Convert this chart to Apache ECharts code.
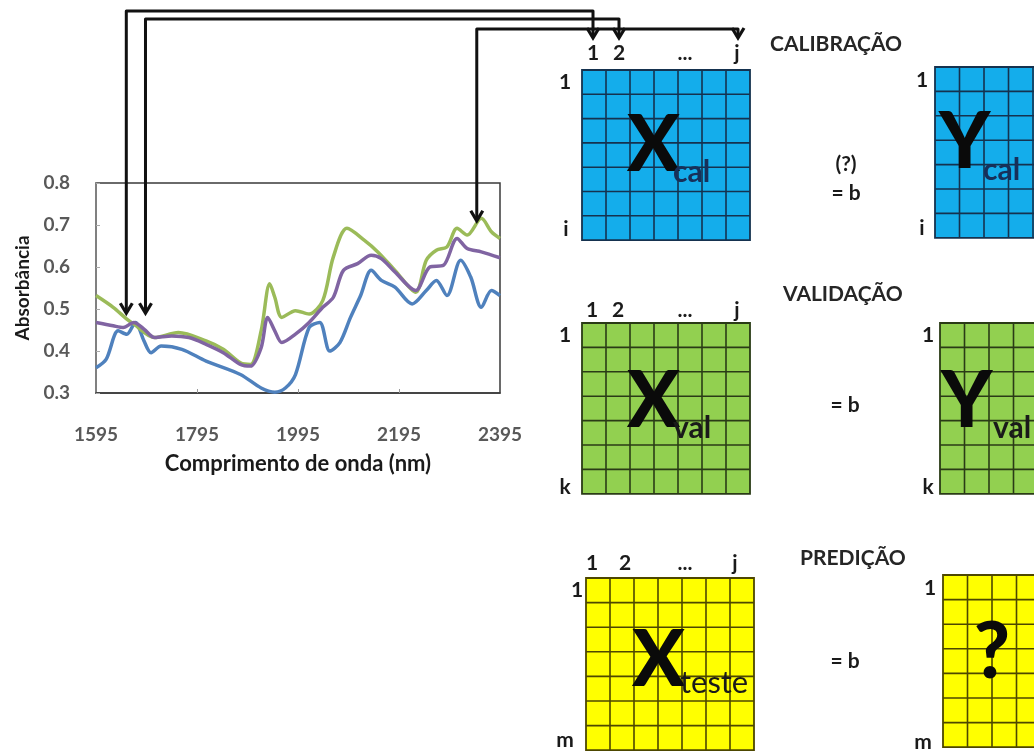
<!DOCTYPE html>
<html><head><meta charset="utf-8">
<script src="https://cdn.jsdelivr.net/npm/echarts@6/dist/echarts.min.js"></script>
<style>html,body{margin:0;padding:0;background:#fff}#c{width:1034px;height:752px}</style>
</head><body><div id="c"></div>
<script>
// ---- data ----
const xTicks = [1595, 1795, 1995, 2195, 2395];
const xInnerTicks = [1795, 1995, 2195];
const yTicks = [0.3, 0.4, 0.5, 0.6, 0.7, 0.8];

const greenWl  = [1595,1629,1656,1670,1711,1758,1813,1847,1881,1901,1922,1939,1949,1963,1990,2017,2044,2065,2092,2126,2153,2187,2228,2249,2269,2290,2310,2330,2358,2378,2395];
const greenAbs = [0.532,0.504,0.476,0.464,0.432,0.444,0.424,0.404,0.372,0.368,0.448,0.56,0.528,0.48,0.496,0.488,0.52,0.624,0.692,0.664,0.636,0.592,0.54,0.616,0.64,0.648,0.692,0.676,0.716,0.684,0.668];

const purpleWl  = [1595,1629,1649,1670,1690,1711,1745,1779,1813,1847,1881,1901,1922,1935,1949,1963,1990,2017,2044,2065,2085,2113,2140,2160,2187,2228,2256,2283,2310,2330,2358,2395];
const purpleAbs = [0.468,0.46,0.456,0.468,0.452,0.432,0.436,0.432,0.416,0.396,0.368,0.364,0.408,0.48,0.448,0.42,0.44,0.468,0.504,0.528,0.592,0.608,0.628,0.62,0.588,0.544,0.6,0.604,0.668,0.644,0.636,0.622];

const blueWl  = [1595,1615,1639,1656,1673,1690,1704,1724,1765,1813,1881,1922,1949,1970,1990,2017,2038,2058,2078,2099,2119,2140,2160,2187,2221,2249,2269,2290,2317,2337,2358,2378,2395];
const blueAbs = [0.36,0.38,0.448,0.44,0.468,0.424,0.396,0.412,0.404,0.376,0.344,0.312,0.302,0.312,0.344,0.456,0.468,0.40,0.42,0.48,0.532,0.592,0.568,0.552,0.512,0.544,0.568,0.532,0.616,0.576,0.504,0.544,0.532];

// arrows: wavelength picked and absorbance where each arrow tip sits
const arrowWl  = [1655, 1693, 2349];
const arrowAbs = [0.49, 0.49, 0.71];

const FONT = 'Lato, "Open Sans", sans-serif';
const zip = (a, b) => a.map((v, i) => [v, b[i]]);

const chart = echarts.init(document.getElementById('c'), null, {renderer: 'canvas'});

const option = {
  backgroundColor: '#fff',
  animation: false,
  grid: {left: 96, top: 183, width: 404, height: 210, show: true, borderColor: '#3a3a3a', borderWidth: 1.5},
  xAxis: {
    type: 'value', min: 1595, max: 2395,
    name: 'Comprimento de onda (nm)', nameLocation: 'middle', nameGap: 60,
    nameTextStyle: {fontFamily: FONT, fontWeight: 'bold', fontSize: 22, color: '#1a1a1a'},
    axisLine: {show: true, lineStyle: {color: '#3a3a3a', width: 1.5}},
    axisTick: {show: true, inside: true, length: 4, customValues: xInnerTicks, lineStyle: {color: '#999'}},
    axisLabel: {customValues: xTicks, margin: 32, fontFamily: FONT, fontWeight: 'bold', fontSize: 19, color: '#595959',
      formatter: v => String(v)},
    splitLine: {show: false}
  },
  yAxis: {
    type: 'value', min: 0.3, max: 0.8,
    name: 'Absorbância', nameLocation: 'middle', nameGap: 64, nameRotate: 90,
    nameTextStyle: {fontFamily: FONT, fontWeight: 'bold', fontSize: 19, color: '#1a1a1a'},
    axisLine: {show: true, lineStyle: {color: '#888', width: 1.5}},
    axisTick: {show: true, inside: true, length: 4, customValues: yTicks, lineStyle: {color: '#aaa'}},
    axisLabel: {customValues: yTicks, margin: 26, fontFamily: FONT, fontWeight: 'bold', fontSize: 19, color: '#595959',
      formatter: v => v.toFixed(1)},
    splitLine: {show: false}
  },
  series: [
    {type: 'line', data: zip(blueWl, blueAbs), smooth: 0.3, symbol: 'none', lineStyle: {color: '#4F81BD', width: 3.5}, itemStyle: {color: '#4F81BD'}},
    {type: 'line', data: zip(greenWl, greenAbs), smooth: 0.3, symbol: 'none', lineStyle: {color: '#9BBB59', width: 3.5}, itemStyle: {color: '#9BBB59'}},
    {type: 'line', data: zip(purpleWl, purpleAbs), smooth: 0.3, symbol: 'none', lineStyle: {color: '#8064A2', width: 3.5}, itemStyle: {color: '#8064A2'}}
  ]
};
chart.setOption(option);

// ---- diagram (graphic) ----
const g = [];
function txt(s, x, y, size, opts) {
  opts = opts || {};
  g.push({type: 'text', x: x, y: y, z: 10, style: {
    text: s, fill: opts.color || '#1a1a1a', font: (opts.weight || 'bold') + ' ' + size + 'px ' + FONT,
    textAlign: opts.align || 'center', textVerticalAlign: 'middle'}});
}
function matrix(x, y, cw, rh, cols, rows, fill, stroke) {
  const w = cw * cols, h = rh * rows;
  g.push({type: 'rect', shape: {x: x, y: y, width: w, height: h}, style: {fill: fill, stroke: stroke, lineWidth: 1.8}, z: 5});
  for (let c = 1; c < cols; c++) {
    g.push({type: 'line', shape: {x1: x + c * cw, y1: y, x2: x + c * cw, y2: y + h}, style: {stroke: stroke, lineWidth: 1.6}, z: 6});
  }
  for (let r = 1; r < rows; r++) {
    g.push({type: 'line', shape: {x1: x, y1: y + r * rh, x2: x + w, y2: y + r * rh}, style: {stroke: stroke, lineWidth: 1.6}, z: 6});
  }
}
function arrowHead(x, y) {
  g.push({type: 'polyline', shape: {points: [[x - 6, y - 10], [x, y], [x + 6, y - 10]]},
    style: {stroke: '#111', lineWidth: 3.2, fill: null, lineJoin: 'miter'}, z: 20});
}

// arrows from the spectra to the columns of X
const arrowTopY  = [11, 19, 29];
const arrowDestX = [593, 619, 738];
const arrowDestY = 38;
arrowWl.forEach((wl, i) => {
  const p = chart.convertToPixel({gridIndex: 0}, [wl, arrowAbs[i]]);
  g.push({type: 'polyline', shape: {points: [[p[0], p[1] - 1], [p[0], arrowTopY[i]], [arrowDestX[i], arrowTopY[i]], [arrowDestX[i], arrowDestY - 1]]},
    style: {stroke: '#111', lineWidth: 3, fill: null, lineJoin: 'round'}, z: 20});
  arrowHead(p[0], p[1]);
  arrowHead(arrowDestX[i], arrowDestY);
});

const BLUE = '#14ADEB', GREEN = '#92D050', YELLOW = '#FFFF00';
// calibration
matrix(582, 70, 24, 24.3, 7, 7, BLUE, '#15324f');
matrix(935, 67, 24.5, 24.4, 5, 7, BLUE, '#15324f');
// validation
matrix(582, 323, 24, 24.4, 7, 7, GREEN, '#2a3b16');
matrix(940, 323, 24.5, 24.4, 5, 7, GREEN, '#2a3b16');
// prediction
matrix(586, 578, 24, 24.6, 7, 7, YELLOW, '#4d4700');
matrix(943, 575, 24.5, 24.6, 5, 7, YELLOW, '#4d4700');

// titles
txt('CALIBRAÇÃO', 770, 44, 21, {align: 'left', color: '#262626'});
txt('VALIDAÇÃO', 783, 294, 21, {align: 'left', color: '#262626'});
txt('PREDIÇÃO', 800, 558, 21, {align: 'left', color: '#262626'});

// column labels
[[593, '1'], [619, '2'], [685, '...'], [737, 'j']].forEach(a => txt(a[1], a[0], 53, 21));
[[592, '1'], [618, '2'], [685, '...'], [737, 'j']].forEach(a => txt(a[1], a[0], 310, 21));
[[592, '1'], [625, '2'], [685, '...'], [735, 'j']].forEach(a => txt(a[1], a[0], 563, 21));
// row labels
txt('1', 565, 82, 21); txt('i', 566, 229, 21);
txt('1', 922, 80, 21); txt('i', 922, 228, 21);
txt('1', 565, 335, 21); txt('k', 565, 487, 21);
txt('1', 928, 335, 21); txt('k', 928, 487, 21);
txt('1', 577, 590, 21); txt('m', 565, 740, 21);
txt('1', 930, 588, 21); txt('m', 923, 742, 21);

// equations
txt('(?)', 846, 164, 21);
txt('= b', 846, 193, 21);
txt('= b', 845, 405, 21);
txt('= b', 845, 661, 21);

// big letters
txt('X', 627, 146, 78, {align: 'left', color: '#0a0a0a', weight: '900'});
txt('cal', 673, 172, 30, {align: 'left', color: '#17305a'});
txt('Y', 939, 143, 78, {align: 'left', color: '#0a0a0a', weight: '900'});
txt('cal', 983, 170, 30, {align: 'left', color: '#17305a'});
txt('X', 627, 402, 78, {align: 'left', color: '#0a0a0a', weight: '900'});
txt('val', 673, 428, 30, {align: 'left', color: '#1a1a1a'});
txt('Y', 941, 402, 78, {align: 'left', color: '#0a0a0a', weight: '900'});
txt('val', 993, 428, 30, {align: 'left', color: '#1a1a1a'});
txt('X', 632, 661, 78, {align: 'left', color: '#0a0a0a', weight: '900'});
txt('teste', 680, 683, 31, {align: 'left', color: '#1a1a1a', weight: 'normal'});
txt('?', 992, 653, 78, {color: '#0a0a0a', weight: '900'});

chart.setOption({graphic: {elements: g}});
</script></body></html>
